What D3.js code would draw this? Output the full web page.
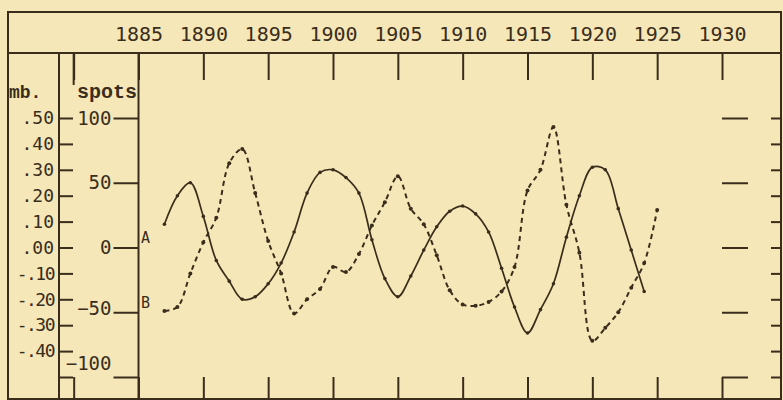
<!DOCTYPE html>
<html>
<head>
<meta charset="utf-8">
<script src="https://cdn.jsdelivr.net/npm/d3@7"></script>
<style>
  html, body { margin: 0; padding: 0; background: #f5e7b7; }
  svg { display: block; }
</style>
</head>
<body>
<script>
// years on the top scale, and the ticks that cut the header
var yearLabels = [1885, 1890, 1895, 1900, 1905, 1910, 1915, 1920, 1925, 1930];
var yearTicks = [1880, 1885, 1890, 1895, 1900, 1905, 1910, 1915, 1920, 1925, 1930];

// left scales
var mbTicks = [0.5, 0.4, 0.3, 0.2, 0.1, 0, -0.1, -0.2, -0.3, -0.4, -0.5];
var spotTicks = [100, 50, 0, -50, -100];

// curve A (pressure, mb), 1887-1924
var yearsA = [1887, 1888, 1889, 1890, 1891, 1892, 1893, 1894, 1895, 1896,
    1897, 1898, 1899, 1900, 1901, 1902, 1903, 1904, 1905, 1906,
    1907, 1908, 1909, 1910, 1911, 1912, 1913, 1914, 1915, 1916,
    1917, 1918, 1919, 1920, 1921, 1922, 1923, 1924];
var valuesA = [0.09, 0.20, 0.25, 0.12, -0.05, -0.13, -0.20, -0.19, -0.14, -0.06,
    0.06, 0.21, 0.29, 0.30, 0.27, 0.21, 0.03, -0.12, -0.19, -0.11,
    -0.01, 0.08, 0.14, 0.16, 0.13, 0.06, -0.08, -0.23, -0.33, -0.24,
    -0.14, 0.04, 0.20, 0.31, 0.30, 0.15, -0.01, -0.17];

// curve B (sunspots), 1887-1925
var yearsB = [1887, 1888, 1889, 1890, 1891, 1892, 1893, 1894, 1895, 1896,
    1897, 1898, 1899, 1900, 1901, 1902, 1903, 1904, 1905, 1906,
    1907, 1908, 1909, 1910, 1911, 1912, 1913, 1914, 1915, 1916,
    1917, 1918, 1919, 1920, 1921, 1922, 1923, 1924, 1925];
var valuesB = [-49, -46, -20, 4, 23, 65, 76, 42, 5, -20,
    -51, -40, -32, -15, -19, -5, 17, 35, 55, 30,
    18, -6, -33, -44, -45, -42, -34, -15, 44, 60,
    93, 33, -4, -72, -62, -50, -31, -12, 29];

var width = 783;
var height = 400;
var ink = "#3a2d1c";
var numFont = "'DejaVu Sans Mono', monospace";
var typeFont = "'Liberation Mono', 'Courier New', monospace";

var x = d3.scaleLinear().domain([1885, 1930]).range([138.5, 722]);
var yMb = d3.scaleLinear().domain([-0.5, 0.5]).range([377, 118]);
var ySpots = d3.scaleLinear().domain([-100, 100]).range([377, 118]);

function styleAxis(g) {
    g.select(".domain").remove();
    g.selectAll(".tick line").attr("stroke", ink).attr("stroke-width", 2);
    g.selectAll(".tick text").attr("fill", ink).attr("font-family", numFont);
}

// ".50", "-.10" ... as written on the old plate
function mbLabel(d) {
    var s = Math.abs(d).toFixed(2).replace(/^0/, "");
    return d < 0 ? "-" + s : s;
}

function createChart() {
    const svg = d3.create("svg")
        .attr("width", width)
        .attr("height", height)
        .attr("viewBox", [0, 0, width, height]);

    svg.append("rect")
        .attr("width", width).attr("height", height)
        .attr("fill", "#f5e7b7");

    // frame and panel rules
    const frame = svg.append("g").attr("stroke", ink).attr("stroke-width", 2).attr("fill", "none");
    frame.append("rect").attr("x", 8).attr("y", 12).attr("width", 773).attr("height", 387);
    frame.append("line").attr("x1", 8).attr("x2", 781).attr("y1", 53).attr("y2", 53);
    frame.append("line").attr("x1", 59).attr("x2", 59).attr("y1", 53).attr("y2", 400);
    frame.append("line").attr("x1", x(1885)).attr("x2", x(1885)).attr("y1", 53).attr("y2", 400);

    // year axis, top
    svg.append("g")
        .attr("transform", "translate(0,80)")
        .call(d3.axisTop(x).tickValues(yearTicks).tickSize(27).tickPadding(12)
            .tickFormat(d => yearLabels.includes(d) ? String(d) : ""))
        .call(styleAxis)
        .call(g => g.selectAll(".tick text").attr("font-size", 20));

    // longer tick for 1880 in the scale panel
    svg.append("line")
        .attr("x1", x(1880)).attr("x2", x(1880))
        .attr("y1", 53).attr("y2", 85)
        .attr("stroke", ink).attr("stroke-width", 2);

    // year ticks, bottom
    svg.append("g")
        .attr("transform", `translate(0,${ySpots(-100)})`)
        .call(d3.axisBottom(x).tickValues(yearTicks).tickSize(23).tickFormat(""))
        .call(styleAxis);

    // mb axis, left
    svg.append("g")
        .attr("transform", "translate(73,0)")
        .call(d3.axisLeft(yMb).tickValues(mbTicks).tickSize(14).tickPadding(5)
            .tickFormat(d => d <= -0.45 ? "" : mbLabel(d)))
        .call(styleAxis)
        .call(g => g.selectAll(".tick text")
            .attr("font-size", 18)
            .attr("letter-spacing", d => d < 0 ? -1.5 : 0));

    // spots axis, left
    svg.append("g")
        .attr("transform", `translate(${x(1885)},0)`)
        .call(d3.axisLeft(ySpots).tickValues(spotTicks).tickSize(25).tickPadding(2))
        .call(styleAxis)
        .call(g => g.selectAll(".tick text")
            .attr("font-size", 19)
            .attr("dy", d => d === -100 ? "-0.4em" : d === -50 ? "0.1em" : "0.32em"));

    // right side scales (no labels)
    svg.append("g")
        .attr("transform", `translate(${x(1930)},0)`)
        .call(d3.axisRight(ySpots).tickValues(spotTicks).tickSize(26).tickFormat(""))
        .call(styleAxis);
    svg.append("g")
        .attr("transform", "translate(781,0)")
        .call(d3.axisLeft(yMb).tickValues(mbTicks).tickSize(10).tickFormat(""))
        .call(styleAxis);

    // header labels
    svg.append("text")
        .attr("x", 9).attr("y", 98)
        .attr("font-family", typeFont).attr("font-weight", "bold")
        .attr("font-size", 18).attr("fill", ink)
        .text("mb.");
    svg.append("text")
        .attr("x", 77).attr("y", 98)
        .attr("font-family", typeFont).attr("font-weight", "bold")
        .attr("font-size", 20).attr("fill", ink)
        .text("spots");

    // curves
    const dataA = yearsA.map((yr, i) => [yr, valuesA[i]]);
    const dataB = yearsB.map((yr, i) => [yr, valuesB[i]]);

    const lineA = d3.line()
        .x(d => x(d[0])).y(d => yMb(d[1]))
        .curve(d3.curveCatmullRom.alpha(0.5));
    const lineB = d3.line()
        .x(d => x(d[0])).y(d => ySpots(d[1]))
        .curve(d3.curveCatmullRom.alpha(0.5));

    svg.append("path")
        .datum(dataB)
        .attr("fill", "none")
        .attr("stroke", ink)
        .attr("stroke-width", 2)
        .attr("stroke-dasharray", "5,4")
        .attr("d", lineB);

    svg.append("path")
        .datum(dataA)
        .attr("fill", "none")
        .attr("stroke", ink)
        .attr("stroke-width", 1.7)
        .attr("d", lineA);

    svg.append("g")
        .selectAll("circle")
        .data(dataA)
        .join("circle")
        .attr("cx", d => x(d[0])).attr("cy", d => yMb(d[1]))
        .attr("r", 1.8).attr("fill", ink);

    svg.append("g")
        .selectAll("circle")
        .data(dataB)
        .join("circle")
        .attr("cx", d => x(d[0])).attr("cy", d => ySpots(d[1]))
        .attr("r", 2).attr("fill", ink);

    // series letters
    svg.append("text")
        .attr("x", 141).attr("y", 243)
        .attr("font-family", numFont).attr("font-size", 15).attr("fill", ink)
        .text("A");
    svg.append("text")
        .attr("x", 141).attr("y", 308)
        .attr("font-family", numFont).attr("font-size", 15).attr("fill", ink)
        .text("B");

    return svg.node();
}

document.body.append(createChart());
</script>
</body>
</html>
